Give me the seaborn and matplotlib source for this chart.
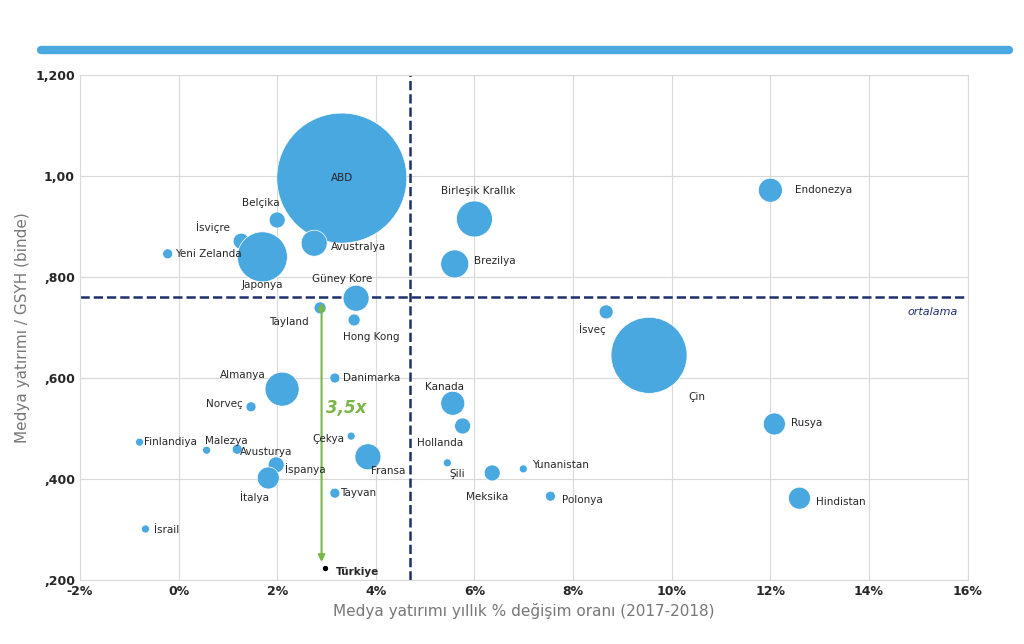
import matplotlib
matplotlib.use('Agg')
import matplotlib.pyplot as plt
import seaborn as sns
import pandas as pd

countries = ['ABD', 'Belçika', 'İsviçre', 'Yeni Zelanda', 'Japonya', 'Avustralya',
             'Birleşik Krallık', 'Brezilya', 'Endonezya', 'Güney Kore', 'Tayland',
             'Hong Kong', 'İsveç', 'Çin', 'Almanya', 'Danimarka', 'Norveç', 'Kanada',
             'Hollanda', 'Rusya', 'Finlandiya', 'Malezya', 'Avusturya', 'Çekya',
             'İspanya', 'Fransa', 'Şili', 'Meksika', 'Yunanistan', 'İtalya', 'Tayvan',
             'Polonya', 'Hindistan', 'İsrail', 'Türkiye']
growth = [3.31, 2.0, 1.27, -0.22, 1.7, 2.75, 6.0, 5.6, 12.0, 3.6, 2.87, 3.56, 8.67,
          9.54, 2.1, 3.17, 1.47, 5.56, 5.76, 12.08, -0.79, 0.57, 1.19, 3.5, 1.98,
          3.84, 5.45, 6.36, 6.99, 1.82, 3.17, 7.54, 12.59, -0.67, 2.97]
ratio = [996, 913, 871, 846, 840, 867, 915, 826, 972, 758, 739, 715, 731, 645, 578,
         600, 543, 550, 505, 509, 473, 457, 459, 485, 428, 444, 432, 412, 420, 402,
         372, 366, 362, 301, 224]
radius = [65, 8, 8, 5, 25, 13, 18, 14, 12, 13, 6, 6, 7, 38, 17, 5, 5, 12, 8, 11,
          4, 4, 5, 4, 8, 13, 4, 8, 4, 11, 5, 5, 11, 4, 2]
# label offsets in points (dx, dy, ha)
offsets = {
    'ABD': (0, 0, 'center'), 'Belçika': (-12, 12, 'center'), 'İsviçre': (-20, 10, 'center'),
    'Yeni Zelanda': (5, 0, 'left'), 'Japonya': (0, -20, 'center'), 'Avustralya': (12, -3, 'left'),
    'Birleşik Krallık': (3, 20, 'center'), 'Brezilya': (14, 2, 'left'), 'Endonezya': (18, 0, 'left'),
    'Güney Kore': (-10, 14, 'center'), 'Tayland': (-8, -10, 'right'), 'Hong Kong': (12, -12, 'center'),
    'İsveç': (-10, -12, 'center'), 'Çin': (28, -30, 'left'), 'Almanya': (-28, 10, 'center'),
    'Danimarka': (6, 0, 'left'), 'Norveç': (-6, 2, 'right'), 'Kanada': (-6, 12, 'center'),
    'Hollanda': (-16, -12, 'center'), 'Rusya': (12, 1, 'left'), 'Finlandiya': (3, 0, 'left'),
    'Malezya': (14, 7, 'center'), 'Avusturya': (2, -2, 'left'), 'Çekya': (-5, -2, 'right'),
    'İspanya': (6, -3, 'left'), 'Fransa': (2, -10, 'left'), 'Şili': (7, -8, 'center'),
    'Meksika': (-4, -17, 'center'), 'Yunanistan': (6, 3, 'left'), 'İtalya': (-10, -14, 'center'),
    'Tayvan': (4, 0, 'left'), 'Polonya': (8, -3, 'left'), 'Hindistan': (12, -3, 'left'),
    'İsrail': (6, -1, 'left'), 'Türkiye': (8, -3, 'left'),
}
mean_x = 4.7
mean_y = 760

df = pd.DataFrame({'country': countries, 'growth': growth, 'ratio': ratio, 'r': radius})
df['s'] = (2 * df['r'] * 0.72) ** 2

sns.set_style('white')
plt.rcParams['font.family'] = ['DejaVu Sans']
fig = plt.figure(figsize=(10.24, 6.44), dpi=100)
ax = fig.add_axes([0.078, 0.0994, 0.867, 0.784])
fig.add_artist(plt.Line2D([0.04, 0.985], [0.922, 0.922], color='#4aa8e0', lw=6,
                          transform=fig.transFigure))

blue = df[df['country'] != 'Türkiye']
ax.scatter(blue['growth'], blue['ratio'], s=blue['s'], color='#4aa8e0', edgecolor='white',
           linewidth=0.5, zorder=3)
tr = df[df['country'] == 'Türkiye']
ax.scatter(tr['growth'], tr['ratio'], s=8, color='black', zorder=4)

for c, x, y in zip(countries, growth, ratio):
    dx, dy, ha = offsets[c]
    ax.annotate(c, (x, y), xytext=(dx, dy), textcoords='offset points', ha=ha, va='center',
                fontsize=7.5, fontweight='bold' if c == 'Türkiye' else 'normal', zorder=5)

ax.axvline(mean_x, color='#1f2f6b', ls='--', lw=1.8, zorder=2)
ax.axhline(mean_y, color='#1f2f6b', ls='--', lw=1.8, zorder=2)
ax.text(15.8, 730, 'ortalama', style='italic', color='#1f2f6b', fontsize=8, ha='right', va='center')

ax.annotate('', xy=(2.9, mean_y - 5), xytext=(2.9, 230),
            arrowprops=dict(arrowstyle='<|-|>', color='#7ab648', lw=1.5, mutation_scale=10))
ax.text(3.0, 530, '3,5x', color='#7ab648', fontsize=12, fontweight='bold', style='italic')

ax.set_xlim(-2, 16)
ax.set_ylim(200, 1200)
ax.set_xticks(range(-2, 17, 2))
ax.set_xticklabels([f'{v}%' for v in range(-2, 17, 2)], fontweight='bold', fontsize=9)
ax.set_yticks([200, 400, 600, 800, 1000, 1200])
ax.set_yticklabels([',200', ',400', ',600', ',800', '1,00', '1,200'], fontweight='bold', fontsize=9)
ax.grid(True, color='#d9d9d9', lw=0.8, zorder=0)
for sp in ax.spines.values():
    sp.set_color('#d9d9d9')
ax.tick_params(length=0)
ax.set_xlabel('Medya yatırımı yıllık % değişim oranı (2017-2018)', color='#777777', fontsize=11)
ax.set_ylabel('Medya yatırımı / GSYH (binde)', color='#777777', fontsize=11)

fig.savefig('out.png', dpi=100)
